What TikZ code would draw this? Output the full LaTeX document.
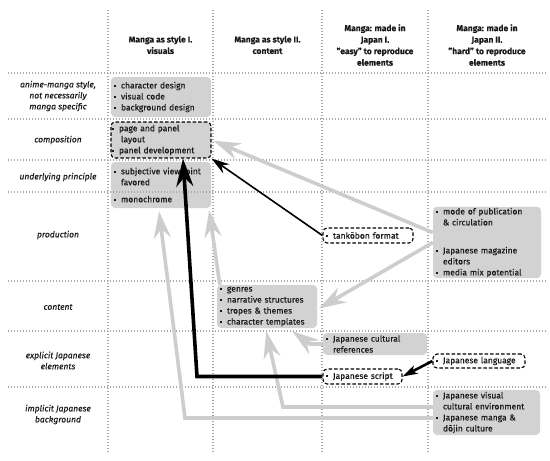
\documentclass[tikz,border=0pt]{standalone}
\usepackage{fontspec}
\setmainfont{Fira Sans}[UprightFeatures={FakeBold=0.35}, ItalicFeatures={FakeBold=0.45}, BoldFeatures={FakeBold=0.2}]
\usetikzlibrary{arrows.meta,calc}
\definecolor{boxgray}{HTML}{D2D2D2}
\definecolor{arrgray}{HTML}{CDCDCD}
\definecolor{gridgray}{HTML}{A8A8A8}
\definecolor{txt}{HTML}{1A1A1A}
\newcommand\bu{\makebox[7pt][l]{\rule[1.6pt]{2pt}{2pt}}}
\newcommand\ind{\hspace*{7pt}}
\tikzset{
  gbox/.style={fill=boxgray, rounded corners=4pt, inner xsep=3pt, inner ysep=1pt, align=left, text=txt,
    font=\fontsize{8.5}{11}\selectfont},
  dbox/.style={gbox, draw=black, line width=1.1pt, dash pattern=on 3.5pt off 2pt},
  wbox/.style={dbox, fill=white},
  hdr/.style={align=center, font=\bfseries\fontsize{8.5}{11.5}\selectfont, text=txt},
  rowlab/.style={align=center, font=\itshape\fontsize{8.5}{11}\selectfont, text=txt},
  gridln/.style={gridgray, line width=1.1pt, dash pattern=on 1.2pt off 1.8pt},
  garr/.style={arrgray, line width=3.6pt, -{Stealth[length=27pt,width=17pt,inset=9pt]}},
  barr/.style={black, line width=3.6pt, -{Stealth[length=28pt,width=17pt,inset=9pt]}},
  tarr/.style={black, line width=1.6pt, -{Stealth[length=18pt,width=11pt,inset=6pt]}},
  marr/.style={black, line width=2.6pt, -{Stealth[length=15pt,width=9pt,inset=4pt]}},
}
\begin{document}
\begin{tikzpicture}[x=1pt,y=-1pt]
\useasboundingbox (0,0) rectangle (550,461);
% headers
\node[hdr] (h1) at (160.5,45) {Manga as style I.\\visuals};
\node[hdr] (h2) at (267.5,45) {Manga as style II.\\content};
\node[hdr] (h3) at (375,45) {Manga: made in\\Japan I.\\"easy" to reproduce\\elements};
\node[hdr] (h4) at (487,45) {Manga: made in\\Japan II.\\"hard" to reproduce\\elements};
% row labels
\node[rowlab] (r1) at (58,96) {anime-manga style,\\not necessarily\\manga specific};
\node[rowlab] (r2) at (58,140) {composition};
\node[rowlab] (r3) at (58,177) {underlying principle};
\node[rowlab] (r4) at (58,235) {production};
\node[rowlab] (r5) at (58,307) {content};
\node[rowlab] (r6) at (58,360.5) {explicit Japanese\\elements};
\node[rowlab] (r7) at (58,414.5) {implicit Japanese\\background};
% boxes
\node[gbox, minimum width=100pt, minimum height=40pt, text width=94pt] (visA) at (161,97)
  {\bu character design\\\bu visual code\\\bu background design};
\node[dbox, minimum width=100pt, minimum height=36pt, text width=94pt, inner xsep=3pt] (visB) at (161,140)
  {\hspace*{-2pt}\bu page and panel\\\ind layout\\\hspace*{-2pt}\bu panel development};
\node[gbox, minimum width=100pt, minimum height=46pt, text width=94pt] (visC) at (161,185)
  {\bu subjective viewpoint\\\ind favored\\[6pt]\bu monochrome};
\node[gbox, minimum width=108pt, minimum height=71pt, text width=102pt] (mode) at (487,242.5)
  {\bu mode of publication\\\ind \& circulation\\[17pt]\bu Japanese magazine\\\ind editors\\\bu media mix potential};
\node[gbox, minimum width=100pt, minimum height=43pt, text width=94pt] (genres) at (267,306.5)
  {\bu genres\\\bu narrative structures\\\bu tropes \& themes\\\bu character templates};
\node[gbox, minimum width=104pt, minimum height=22pt, text width=98pt] (refs) at (375,344)
  {\bu Japanese cultural\\\ind references};
\node[wbox, minimum width=90pt, minimum height=15pt, text width=84pt] (tank) at (368,235.5)
  {\bu tankōbon format};
\node[wbox, minimum width=92pt, minimum height=14pt, text width=86pt] (lang) at (479,361)
  {\bu Japanese language};
\node[wbox, minimum width=79pt, minimum height=15pt, text width=73pt] (script) at (362.5,376.5)
  {\bu Japanese script};
\node[gbox, minimum width=107pt, minimum height=45pt, text width=101pt] (env) at (486.5,412.5)
  {\bu Japanese visual\\\ind cultural environment\\\bu Japanese manga \&\\\ind dōjin culture};
% grid
\foreach \yy in {73,119,160,192,281,331,387}
  \draw[gridln] (8,\yy) -- (546,\yy);
\foreach \xx in {108,213,322,428}
  \draw[gridln] (\xx,10) -- (\xx,454);
% gray arrows
\coordinate (dk) at (283,407);
\coordinate (ek) at (185,418);
\draw[garr, shorten >=2pt] ([yshift=10pt]mode.west) -- (visB.east);
\draw[garr, shorten >=2pt] (mode.west) -- ([yshift=-3pt]genres.east);
\draw[garr] (refs.west) -- ++(-13,0) -- ([xshift=-25pt,yshift=-3pt]genres.south east);
\draw[garr] ([yshift=5.5pt]env.west) -- (dk) -- ([xshift=-51pt,yshift=-3pt]genres.south east);
\draw[garr] ([yshift=-5.5pt]env.west) -- (ek) -- ([xshift=-2pt,yshift=-3pt]visC.south);
\draw[garr] ([xshift=3pt]genres.north west) -- ([xshift=-2pt,yshift=-2pt]visC.south east);
% black arrows
\coordinate (bk) at (197,376.5);
\draw[tarr] (tank.west) -- (visB.south east);
\draw[barr] (script.west) -- (bk) -- ([xshift=22pt]visB.south);
\draw[marr] (lang.west) -- (script.east);
\end{tikzpicture}
\end{document}
